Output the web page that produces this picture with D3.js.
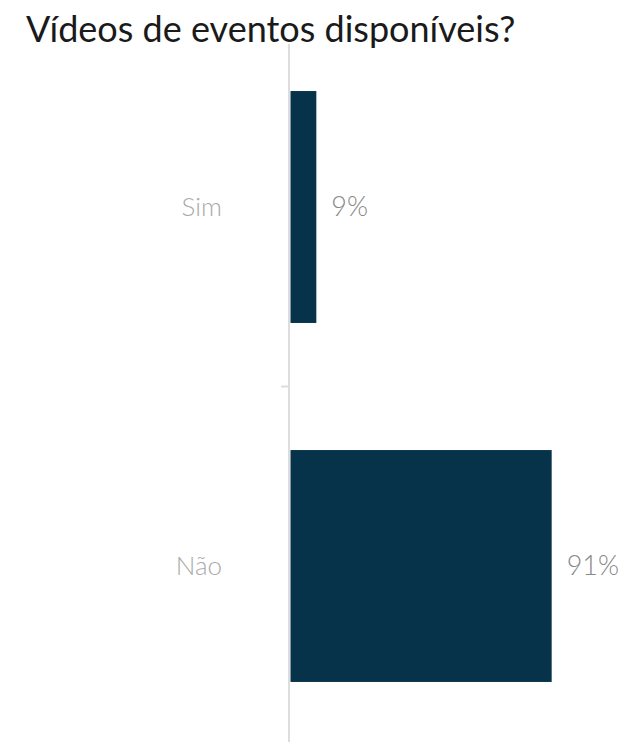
<!DOCTYPE html>
<html>
<head>
<meta charset="utf-8">
<script src="https://cdn.jsdelivr.net/npm/d3@7"></script>
<style>
  body { margin: 0; background: #fff; }
  text { font-family: Lato, sans-serif; }
</style>
</head>
<body>
<div class="canvas"></div>
<script>
const title = 'Vídeos de eventos disponíveis?'
const categories = ['Sim', 'Não']
const values = [9, 91]
const xMax = 100

const width = 626
const height = 742

const svg = d3.select('.canvas').append('svg')
  .attr('width', width)
  .attr('height', height)

svg.append('text')
  .attr('x', 26)
  .attr('y', 42)
  .attr('font-size', 36)
  .attr('fill', '#1a1a1a')
  .text(title)

const x = d3.scaleLinear()
  .domain([0, xMax])
  .range([290.5, 577.5])

const y = d3.scaleBand()
  .domain(categories)
  .range([27.5, 745.5])
  .paddingInner(0.354)
  .paddingOuter(0.177)

const data = categories.map((c, i) => ({ name: c, value: values[i] }))

// vertical axis line + tick between bands
svg.append('line')
  .attr('x1', 289).attr('x2', 289)
  .attr('y1', 44).attr('y2', height)
  .attr('stroke', '#ddd')
  .attr('stroke-width', 2)

const ticks = categories.slice(1).map(c => y(c) - y.step() * y.paddingInner() / 2)
svg.selectAll('.tick')
  .data(ticks)
  .enter().append('line')
  .attr('class', 'tick')
  .attr('x1', 281).attr('x2', 289)
  .attr('y1', d => d).attr('y2', d => d)
  .attr('stroke', '#ddd')
  .attr('stroke-width', 2)

svg.selectAll('rect')
  .data(data)
  .enter().append('rect')
  .attr('x', x(0))
  .attr('y', d => y(d.name))
  .attr('width', d => x(d.value) - x(0))
  .attr('height', y.bandwidth())
  .attr('fill', '#06324a')

svg.selectAll('.cat')
  .data(data)
  .enter().append('text')
  .attr('class', 'cat')
  .attr('x', 222)
  .attr('y', d => y(d.name) + y.bandwidth() / 2)
  .attr('dy', '0.35em')
  .attr('text-anchor', 'end')
  .attr('font-size', 26)
  .attr('font-weight', 300)
  .attr('fill', '#aaa')
  .text(d => d.name)

svg.selectAll('.val')
  .data(data)
  .enter().append('text')
  .attr('class', 'val')
  .attr('x', d => x(d.value) + 15)
  .attr('y', d => y(d.name) + y.bandwidth() / 2)
  .attr('dy', '0.35em')
  .attr('font-size', 27)
  .attr('font-weight', 300)
  .attr('fill', '#888')
  .text(d => d.value + '%')
</script>
</body>
</html>
